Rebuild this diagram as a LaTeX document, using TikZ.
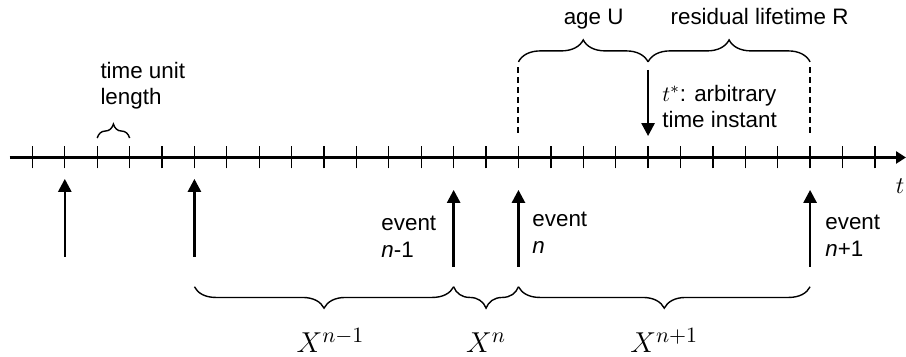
\documentclass[tikz,border=0pt]{standalone}
\usepackage{fontspec}
\setmainfont{Liberation Sans}
\usetikzlibrary{arrows.meta,decorations.pathreplacing}

\begin{document}
\begin{tikzpicture}[
  x=0.57cm, y=0.57cm,
  font=\fontsize{11.2}{13.5}\selectfont,
  axis/.style={line width=1.25pt, -{Triangle[length=5pt,width=6pt]}},
  tickmark/.style={line width=0.65pt},
  arr/.style={line width=1.3pt, -{Triangle[length=6.5pt,width=6.5pt]}},
  brc/.style={decorate, decoration={brace, amplitude=#1}, line width=0.7pt},
  brc/.default=11pt,
  guide/.style={line width=1pt, dash pattern=on 3pt off 2pt},
  lbl/.style={align=left, anchor=base west, inner sep=0pt},
  big/.style={font=\fontsize{15}{18}\selectfont, anchor=base, inner sep=0pt}
]
\useasboundingbox (0,-6.13) rectangle (27.96,4.86);
% time axis with unit ticks
\coordinate (start) at (0.3,0);
\coordinate (end) at (27.96,0);
\draw[axis] (start) -- (end);
\foreach \k in {1,...,27}
  \draw[tickmark] (\k,-0.34) -- (\k,0.34);
\node[anchor=base, inner sep=0pt, font=\fontsize{12}{14}\selectfont]
  (tlab) at (27.78,-1.1) {$t$};
% time unit
\coordinate (u0) at (3,0.6);
\coordinate (u1) at (4,0.6);
\draw[brc=7pt] (u0) -- (u1);
\node[lbl] (unit) at (3.09,1.62) {time unit\\length};
% events
\coordinate (ea0) at (2,-3.07);  \coordinate (ea1) at (2,-0.66);
\coordinate (eb0) at (6,-3.07);  \coordinate (eb1) at (6,-0.66);
\coordinate (ec0) at (14,-3.38); \coordinate (ec1) at (14,-1.0);
\coordinate (ed0) at (16,-3.38); \coordinate (ed1) at (16,-1.0);
\coordinate (ee0) at (25,-3.38); \coordinate (ee1) at (25,-1.0);
\draw[arr] (ea0) -- (ea1);
\draw[arr] (eb0) -- (eb1);
\draw[arr] (ec0) -- (ec1);
\draw[arr] (ed0) -- (ed1);
\draw[arr] (ee0) -- (ee1);
\node[lbl] (evnm) at (11.76,-3.10) {event\\\textit{n}-1};
\node[lbl] (evn) at (16.42,-2.96) {event\\\textit{n}};
\node[lbl] (evnp) at (25.46,-3.07) {event\\\textit{n}+1};
% age and residual lifetime
\coordinate (ag0) at (16,2.78); \coordinate (ag1) at (16,0.63);
\coordinate (rs0) at (25,2.78); \coordinate (rs1) at (25,0.63);
\draw[guide] (ag0) -- (ag1);
\draw[guide] (rs0) -- (rs1);
\coordinate (ts0) at (20,2.70);
\coordinate (ts1) at (20,0.66);
\draw[arr] (ts0) -- (ts1);
\node[lbl] (tstar) at (20.43,0.91) {$t^*$: arbitrary\\time instant};
\coordinate (bu0) at (16,2.95);
\coordinate (bu1) at (20,2.95);
\coordinate (bu2) at (25,2.95);
\draw[brc] (bu0) -- (bu1);
\draw[brc] (bu1) -- (bu2);
\node[anchor=base, inner sep=0pt] (age) at (18.32,4.09) {age U};
\node[anchor=base, inner sep=0pt] (resid) at (23.44,4.09) {residual lifetime R};
% inter-event times
\coordinate (x0) at (6,-3.99);
\coordinate (x1) at (14,-3.99);
\coordinate (x2) at (16,-3.99);
\coordinate (x3) at (25,-3.99);
\draw[brc=10.7pt] (x1) -- (x0);
\draw[brc=10.7pt] (x2) -- (x1);
\draw[brc=10.7pt] (x3) -- (x2);
\node[big] (xnm) at (10.2,-6.03) {$X^{n-1}$};
\node[big] (xn) at (15,-6.03) {$X^{n}$};
\node[big] (xnp) at (20.5,-6.03) {$X^{n+1}$};
\end{tikzpicture}
\end{document}
